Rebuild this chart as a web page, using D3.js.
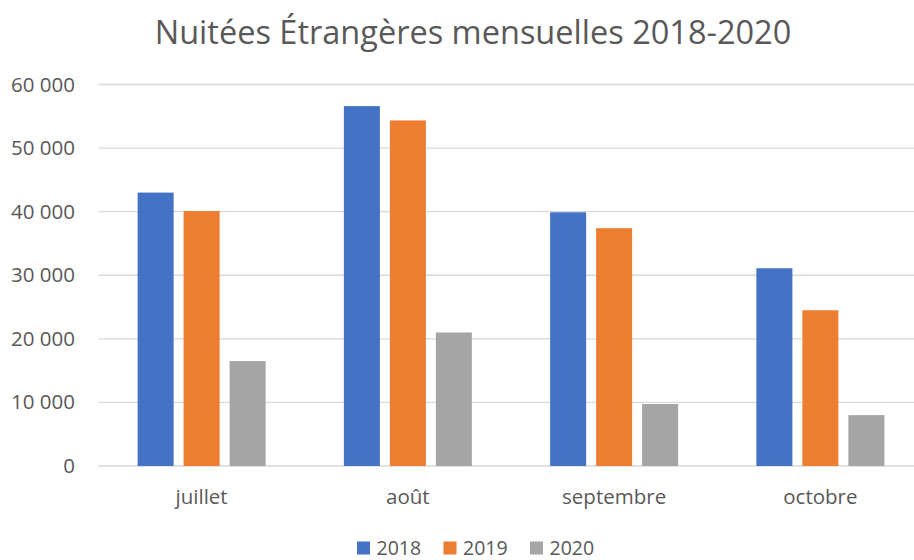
<!DOCTYPE html>
<html><head><meta charset="utf-8">
<script src="https://cdn.jsdelivr.net/npm/d3@7"></script>
<style>body{margin:0;background:#fff}svg{display:block}</style>
</head><body>
<svg id="c" width="914" height="560"></svg>
<script>
const title = "Nuitées Étrangères mensuelles 2018-2020";
const categories = ["juillet", "août", "septembre", "octobre"];
const seriesNames = ["2018", "2019", "2020"];
const values2018 = [43000, 56600, 39900, 31100];
const values2019 = [40100, 54350, 37400, 24500];
const values2020 = [16500, 21000, 9750, 8000];
const yTicks = [0, 10000, 20000, 30000, 40000, 50000, 60000];
const colors = ["#4472C4", "#ED7D31", "#A5A5A5"];

const series = [values2018, values2019, values2020];
const font = "'Open Sans', sans-serif";
const txt = "#595959";
const svg = d3.select("#c");

const y = d3.scaleLinear().domain([0, 60000]).range([466, 84.5]);
const x0 = d3.scaleBand().domain(categories).range([98.5, 923.5]).padding(0);
const step = x0.bandwidth();
const x1 = d3.scaleBand().domain(seriesNames)
  .range([(step - 128) / 2, (step + 128) / 2]).paddingInner(0.217).paddingOuter(0);

// gridlines
const fmt = v => d3.format(",")(v).replace(/,/g, " ");
const yAxis = d3.axisLeft(y).tickValues(yTicks).tickSize(0).tickFormat(fmt).tickPadding(23.5);
const ga = svg.append("g").attr("transform", "translate(98.5,0)").call(yAxis);
ga.select(".domain").remove();
ga.selectAll("text").attr("fill", txt).style("font-family", font).style("font-size", "20.5px");

svg.append("g").selectAll("line").data(yTicks).join("line")
  .attr("x1", 98.5).attr("x2", 914)
  .attr("y1", d => y(d)).attr("y2", d => y(d))
  .attr("stroke", "#d9d9d9").attr("stroke-width", 1.3);

// bars
const groups = svg.append("g").selectAll("g").data(categories).join("g")
  .attr("transform", d => `translate(${x0(d)},0)`);
groups.selectAll("rect").data((c, i) => seriesNames.map((s, j) => ({s, j, v: series[j][i]})))
  .join("rect")
  .attr("x", d => x1(d.s)).attr("width", x1.bandwidth())
  .attr("y", d => y(d.v)).attr("height", d => y(0) - y(d.v))
  .attr("fill", d => colors[d.j]);

// x labels
const xAxis = d3.axisBottom(x0).tickSize(0).tickPadding(23.5);
const gx = svg.append("g").attr("transform", `translate(0,${y(0)})`).call(xAxis);
gx.select(".domain").remove();
gx.selectAll("text").attr("fill", txt).style("font-family", font).style("font-size", "20.5px");

// title
svg.append("text").attr("x", 473).attr("y", 44).attr("text-anchor", "middle")
  .attr("fill", txt).style("font-family", font).style("font-size", "32.5px").text(title);

// legend
const legX = [357, 443.5, 530];
const leg = svg.append("g").selectAll("g").data(seriesNames).join("g")
  .attr("transform", (d, i) => `translate(${legX[i]},0)`);
leg.append("rect").attr("x", 0).attr("y", 541.5).attr("width", 13).attr("height", 13)
  .attr("fill", (d, i) => colors[i]);
leg.append("text").attr("x", 19.5).attr("y", 554.5).attr("fill", txt)
  .style("font-family", font).style("font-size", "19.5px").text(d => d);
</script>
</body></html>
